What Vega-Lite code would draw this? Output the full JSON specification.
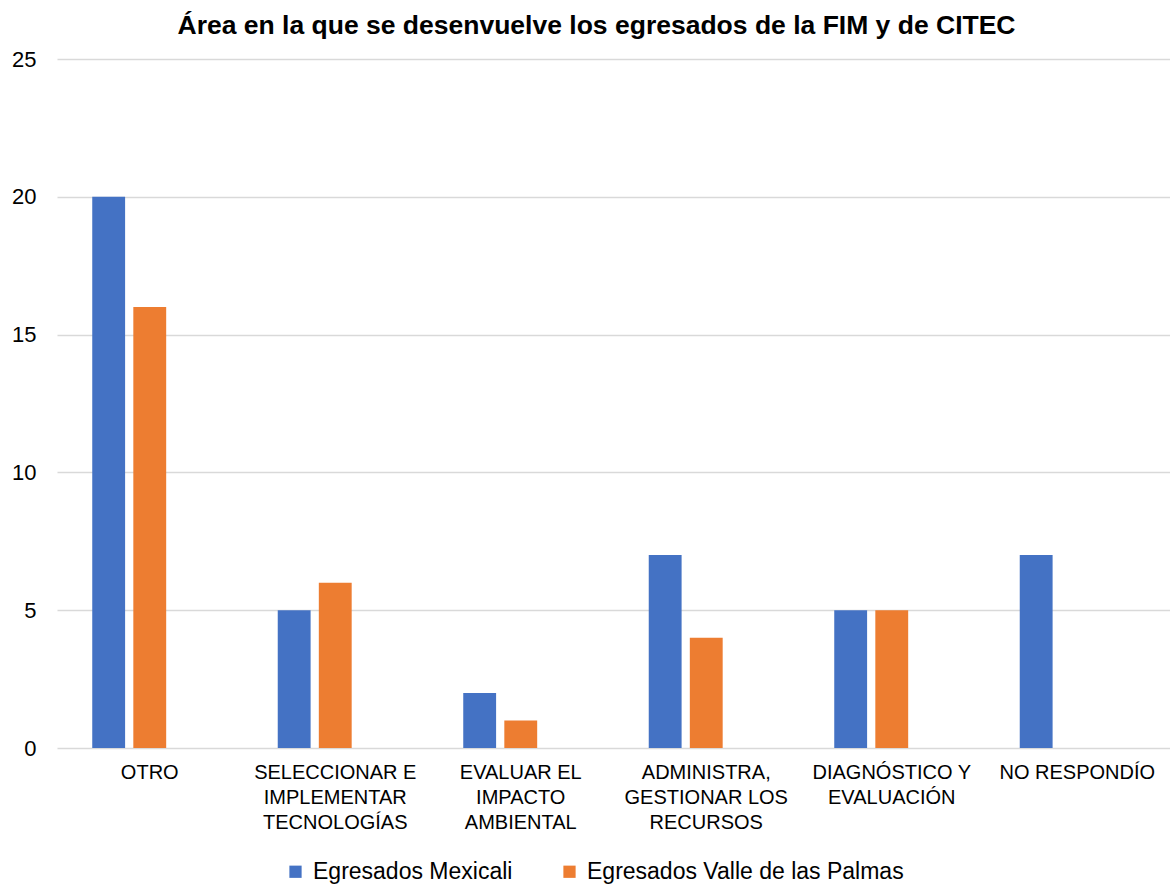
{
  "$schema": "https://vega.github.io/schema/vega-lite/v6.json",
  "width": 1113,
  "height": 689,
  "autosize": "none",
  "padding": {"left": 57, "top": 59, "right": 0, "bottom": 138},
  "background": "white",
  "config": {
    "font": "Liberation Sans",
    "view": {"stroke": null}
  },
  "title": {
    "text": "Área en la que se desenvuelve los egresados de la FIM y de CITEC",
    "fontSize": 26.5,
    "fontWeight": "bold",
    "color": "#000000",
    "anchor": "middle",
    "dx": -17,
    "offset": 9
  },
  "data": {
    "values": [
      {"area": "OTRO", "serie": "Egresados Mexicali", "valor": 20},
      {"area": "OTRO", "serie": "Egresados Valle de las Palmas", "valor": 16},
      {"area": "SELECCIONAR E IMPLEMENTAR TECNOLOGÍAS", "serie": "Egresados Mexicali", "valor": 5},
      {"area": "SELECCIONAR E IMPLEMENTAR TECNOLOGÍAS", "serie": "Egresados Valle de las Palmas", "valor": 6},
      {"area": "EVALUAR EL IMPACTO AMBIENTAL", "serie": "Egresados Mexicali", "valor": 2},
      {"area": "EVALUAR EL IMPACTO AMBIENTAL", "serie": "Egresados Valle de las Palmas", "valor": 1},
      {"area": "ADMINISTRA, GESTIONAR LOS RECURSOS", "serie": "Egresados Mexicali", "valor": 7},
      {"area": "ADMINISTRA, GESTIONAR LOS RECURSOS", "serie": "Egresados Valle de las Palmas", "valor": 4},
      {"area": "DIAGNÓSTICO Y EVALUACIÓN", "serie": "Egresados Mexicali", "valor": 5},
      {"area": "DIAGNÓSTICO Y EVALUACIÓN", "serie": "Egresados Valle de las Palmas", "valor": 5},
      {"area": "NO RESPONDÍO", "serie": "Egresados Mexicali", "valor": 7}
    ]
  },
  "mark": {"type": "bar"},
  "encoding": {
    "x": {
      "field": "area",
      "type": "nominal",
      "sort": null,
      "title": null,
      "scale": {"paddingInner": 0.38, "paddingOuter": 0.19},
      "axis": {
        "labelAngle": 0,
        "domain": false,
        "ticks": false,
        "labelFontSize": 20,
        "labelColor": "#000000",
        "labelPadding": 14,
        "labelLineHeight": 25,
        "labelLimit": 300,
        "labelExpr": "datum.label == 'SELECCIONAR E IMPLEMENTAR TECNOLOGÍAS' ? ['SELECCIONAR E', 'IMPLEMENTAR', 'TECNOLOGÍAS'] : datum.label == 'EVALUAR EL IMPACTO AMBIENTAL' ? ['EVALUAR EL', 'IMPACTO', 'AMBIENTAL'] : datum.label == 'ADMINISTRA, GESTIONAR LOS RECURSOS' ? ['ADMINISTRA,', 'GESTIONAR LOS', 'RECURSOS'] : datum.label == 'DIAGNÓSTICO Y EVALUACIÓN' ? ['DIAGNÓSTICO Y', 'EVALUACIÓN'] : datum.label"
      }
    },
    "xOffset": {
      "field": "serie",
      "type": "nominal",
      "scale": {
        "domain": ["Egresados Mexicali", "Egresados Valle de las Palmas", "(sin serie)"],
        "paddingInner": 0.2,
        "paddingOuter": 0
      }
    },
    "y": {
      "field": "valor",
      "type": "quantitative",
      "title": null,
      "scale": {"domain": [0, 25], "nice": false},
      "axis": {
        "values": [0, 5, 10, 15, 20, 25],
        "domain": false,
        "ticks": false,
        "gridColor": "#d9d9d9",
        "gridWidth": 1.5,
        "labelFontSize": 22,
        "labelColor": "#000000",
        "labelPadding": 21
      }
    },
    "color": {
      "field": "serie",
      "type": "nominal",
      "scale": {
        "domain": ["Egresados Mexicali", "Egresados Valle de las Palmas"],
        "range": ["#4472C4", "#ED7D31"]
      },
      "legend": {
        "title": null,
        "orient": "none",
        "direction": "horizontal",
        "legendX": 227,
        "legendY": 801,
        "symbolType": "square",
        "symbolSize": 150,
        "symbolStrokeWidth": 0,
        "labelFontSize": 23,
        "labelColor": "#000000",
        "labelOffset": 6,
        "columnPadding": 45,
        "labelLimit": 400
      }
    }
  }
}
